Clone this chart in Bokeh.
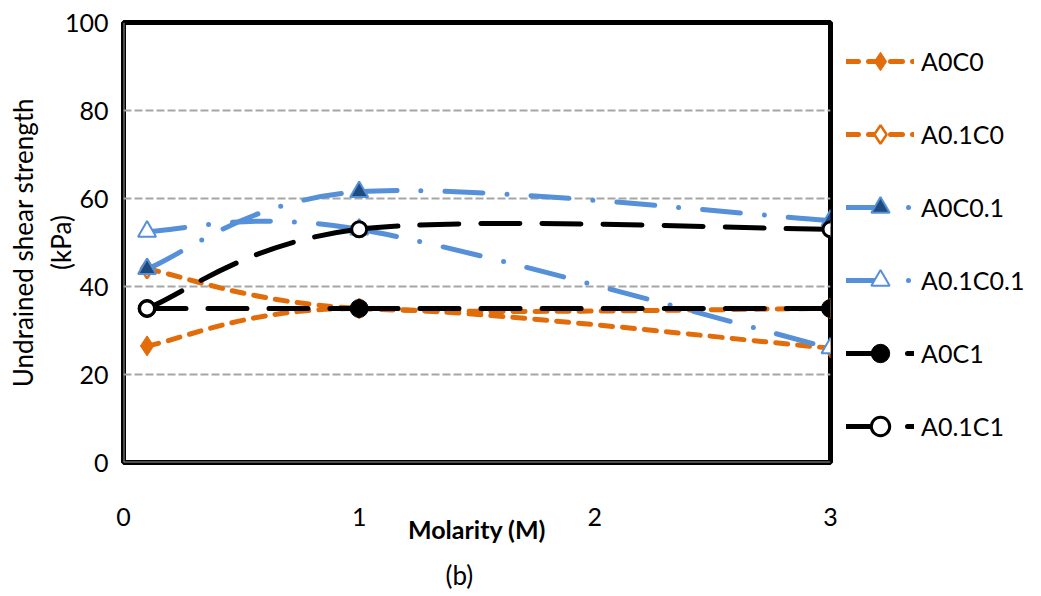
from bokeh.plotting import figure
from bokeh.models import Legend, LegendItem, Span, Title, FixedTicker, ColumnDataSource
from bokeh.embed import file_html
from bokeh.resources import INLINE

# ---------------- data ----------------
molarity = [0.1, 1, 3]
series_names = ["A0C0", "A0.1C0", "A0C0.1", "A0.1C0.1", "A0C1", "A0.1C1"]
A0C0 = [26.5, 35, 26]
A0_1C0 = [44, 35, 35]
A0C0_1 = [44, 61.5, 55]
A0_1C0_1 = [52.5, 53, 26]
A0C1 = [35, 35, 35]
A0_1C1 = [35, 53, 53]
x_ticks = [0, 1, 2, 3]
y_ticks = [0, 20, 40, 60, 80, 100]
x_title = "Molarity (M)"
y_title = "Undrained shear strength\n(kPa)"
panel_tag = "(b)"

ORANGE = "#E36C0A"
BLUE = "#5590D9"
DARKBLUE = "#1F4A7E"
BLACK = "#000000"
FONT = "Lato"

styles = [
    dict(y=A0C0, color=ORANGE, dash="12 10", marker="diamond", size=20, fill=ORANGE, mline=ORANGE, mlw=1),
    dict(y=A0_1C0, color=ORANGE, dash="12 10", marker="diamond", size=19, fill="white", mline=ORANGE, mlw=2.5),
    dict(y=A0C0_1, color=BLUE, dash="38 24 0 24", marker="triangle", size=18, fill=DARKBLUE, mline=BLUE, mlw=2),
    dict(y=A0_1C0_1, color=BLUE, dash="38 24 0 24", marker="triangle", size=18, fill="white", mline=BLUE, mlw=2),
    dict(y=A0C1, color=BLACK, dash="39 22", marker="circle", size=18, fill=BLACK, mline=BLACK, mlw=1),
    dict(y=A0_1C1, color=BLACK, dash="39 22", marker="circle", size=15, fill="white", mline=BLACK, mlw=3),
]


def smooth_segments(xs, ys, t=1.0 / 6.0):
    """Cubic Bezier control points (Catmull-Rom style, as spreadsheet 'smoothed line')."""
    n = len(xs)
    d = dict(x0=[], y0=[], x1=[], y1=[], cx0=[], cy0=[], cx1=[], cy1=[])
    for i in range(n - 1):
        im, i2 = max(i - 1, 0), min(i + 2, n - 1)
        d["x0"].append(xs[i]); d["y0"].append(ys[i])
        d["x1"].append(xs[i + 1]); d["y1"].append(ys[i + 1])
        d["cx0"].append(xs[i] + (xs[i + 1] - xs[im]) * t)
        d["cy0"].append(ys[i] + (ys[i + 1] - ys[im]) * t)
        d["cx1"].append(xs[i + 1] - (xs[i2] - xs[i]) * t)
        d["cy1"].append(ys[i + 1] - (ys[i2] - ys[i]) * t)
    return d


p = figure(frame_width=707, frame_height=440, output_backend="svg", toolbar_location=None,
           x_range=(0, 3), y_range=(0, 100),
           min_border_left=123, min_border_right=0, min_border_top=22, min_border_bottom=0)
p.background_fill_color = "white"
p.border_fill_color = "white"
p.outline_line_color = BLACK
p.outline_line_width = 5

# grid
p.xgrid.visible = False
p.ygrid.ticker = FixedTicker(ticks=y_ticks)
p.ygrid.grid_line_color = "#A6A6A6"
p.ygrid.grid_line_width = 2
p.ygrid.grid_line_dash = "8 3"

# axes
for ax in (p.xaxis[0], p.yaxis[0]):
    ax.axis_line_color = None
    ax.major_tick_line_color = None
    ax.minor_tick_line_color = None
    ax.major_label_text_font = FONT
    ax.major_label_text_color = BLACK
    ax.major_label_text_font_size = "25px"
    ax.axis_label_text_font = FONT
    ax.axis_label_text_color = BLACK
p.xaxis.ticker = FixedTicker(ticks=x_ticks)
p.yaxis.ticker = FixedTicker(ticks=y_ticks)
p.xaxis.major_label_standoff = 39
p.yaxis.major_label_standoff = 9

p.xaxis.axis_label = x_title
p.xaxis.axis_label_text_font_style = "bold"
p.xaxis.axis_label_text_font_size = "25px"
p.xaxis.axis_label_standoff = -15

p.yaxis.axis_label = y_title
p.yaxis.axis_label_text_font_style = "normal"
p.yaxis.axis_label_text_font_size = "26px"
p.yaxis.axis_label_standoff = -15

# left/bottom gray frame edges
p.add_layout(Span(location=0, dimension="height", line_color="#9A9A9A", line_width=2))
p.add_layout(Span(location=0, dimension="width", line_color="#9A9A9A", line_width=2))

items = []
for name, st in zip(series_names, styles):
    src = ColumnDataSource(smooth_segments(molarity, st["y"]))
    b = p.bezier(x0="x0", y0="y0", x1="x1", y1="y1", cx0="cx0", cy0="cy0", cx1="cx1", cy1="cy1",
                 source=src, line_color=st["color"], line_width=5, line_dash=st["dash"], line_cap="round")
    s = p.scatter(x=molarity, y=st["y"], marker=st["marker"], size=st["size"],
                  fill_color=st["fill"], line_color=st["mline"], line_width=st["mlw"])
    items.append(LegendItem(label=name, renderers=[b, s]))

legend = Legend(items=items, location="top_left", orientation="vertical",
                glyph_width=68, glyph_height=46, label_height=46, spacing=27,
                padding=0, margin=16, label_standoff=7,
                label_text_font=FONT, label_text_font_size="25px", label_text_color=BLACK,
                border_line_color=None, background_fill_alpha=0)
p.add_layout(legend, "right")

tag = Title(text=panel_tag, align="left", offset=322, standoff=21,
            text_font=FONT, text_font_size="26px", text_font_style="normal", text_color=BLACK)
p.add_layout(tag, "below")

open("out.html", "w").write(file_html(p, INLINE))
